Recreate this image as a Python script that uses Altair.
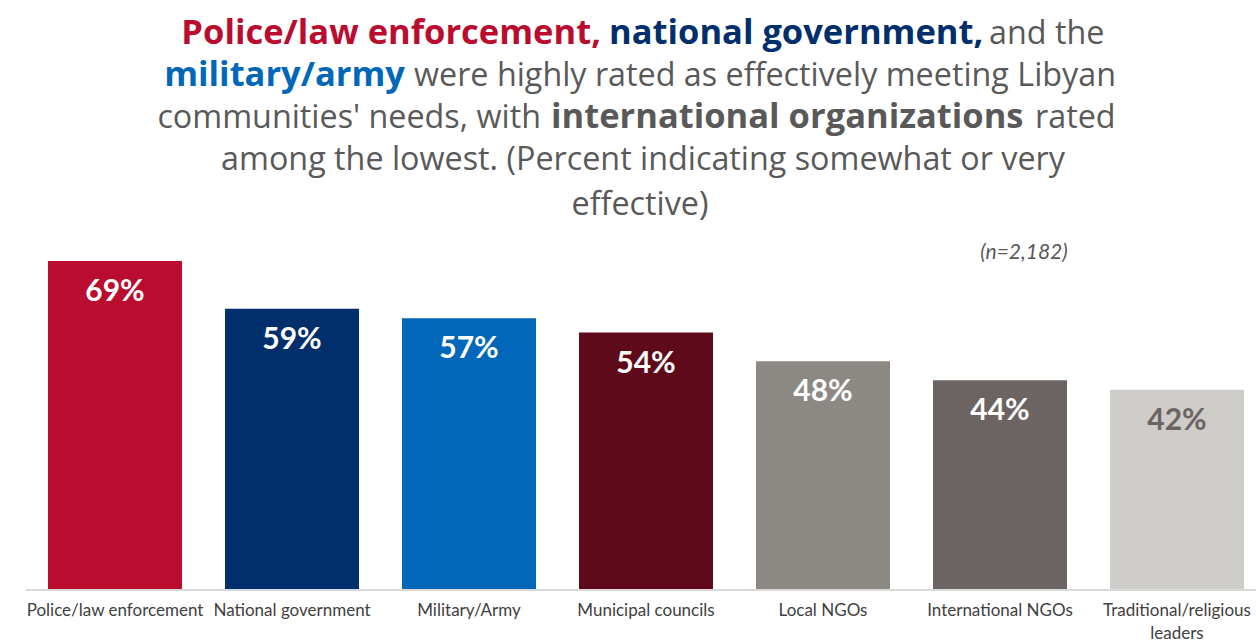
import altair as alt
import pandas as pd

categories = ["Police/law enforcement", "National government", "Military/Army",
              "Municipal councils", "Local NGOs", "International NGOs",
              "Traditional/religious leaders"]
values = [69, 59, 57, 54, 48, 44, 42]
bar_colors = ["#BA0C2F", "#002F6C", "#0067B9", "#5E0A1B", "#8C8985", "#6C6463", "#CFCDC9"]
label_colors = ["#FFFFFF", "#FFFFFF", "#FFFFFF", "#FFFFFF", "#FFFFFF", "#FFFFFF", "#6C6463"]

df = pd.DataFrame({"cat": categories, "val": values, "color": bar_colors,
                   "lcolor": label_colors,
                   "label": [f"{v}%" for v in values]})

FONT = "Lato"
TFONT = "Open Sans"
GRAY = "#595959"

x = alt.X("cat:N", sort=categories,
          scale=alt.Scale(paddingInner=0.243, paddingOuter=0),
          axis=alt.Axis(title=None, labelAngle=0, ticks=False, domain=False,
                        labelPadding=12, labelFontSize=17, labelColor="#404040",
                        labelFont=FONT, labelLimit=300, labelLineHeight=23,
                        labelExpr="datum.value == 'Traditional/religious leaders' ? ['Traditional/religious', 'leaders'] : datum.label"))
y = alt.Y("val:Q", scale=alt.Scale(domain=[0, 69], nice=False), axis=None)

bars = alt.Chart(df).mark_bar().encode(
    x=x, y=y, color=alt.Color("color:N", scale=None))

labels = alt.Chart(df).mark_text(fontSize=30, fontWeight="bold", font=FONT,
                                 baseline="middle", dy=31).encode(
    x=alt.X("cat:N", sort=categories), y=y, text="label:N",
    color=alt.Color("lcolor:N", scale=None))

baseline = alt.Chart(df).mark_rule(color="#D9D9D9", strokeWidth=2).encode(
    x=alt.value(-22), x2=alt.value(1208), y=alt.value(329))

# Title segments: (text, color, bold, x, y, align) in pixels relative to plot origin
title_segments = [
    ("Police/law enforcement,", "#BA0C2F", True, 553, -227, "right"),
    ("national government,", "#002F6C", True, 561, -227, "left"),
    ("and the", GRAY, False, 941, -227, "left"),
    ("military/army", "#0067B9", True, 357, -185, "right"),
    ("were highly rated as effectively meeting Libyan", GRAY, False, 366, -185, "left"),
    ("communities' needs, with", GRAY, False, 493, -143, "right"),
    ("international organizations", GRAY, True, 503, -143, "left"),
    ("rated", GRAY, False, 987, -143, "left"),
    ("among the lowest. (Percent indicating somewhat or very", GRAY, False, 595, -101, "center"),
    ("effective)", GRAY, False, 592, -56, "center"),
]

title_layers = []
for text, color, bold, tx, ty, align in title_segments:
    title_layers.append(
        alt.Chart(df.head(1)).mark_text(
            text=text, color=color, fontWeight="bold" if bold else "normal",
            fontSize=34.5 if bold else 32.3, font=TFONT, align=align, baseline="middle"
        ).encode(x=alt.value(tx), y=alt.value(ty))
    )

n_note = alt.Chart(df.head(1)).mark_text(
    text="(n=2,182)", color=GRAY, fontStyle="italic", fontSize=21, font=FONT,
    align="center", baseline="middle").encode(x=alt.value(976), y=alt.value(-8))

chart = alt.layer(bars, labels, baseline, n_note, *title_layers).properties(
    width=1196, height=329,
    autosize=alt.AutoSizeParams(type="none"),
    padding={"left": 48, "top": 261, "right": 12, "bottom": 54},
).configure_view(stroke=None)

chart.save("out.html", embed_options={"renderer": "svg", "actions": False})
